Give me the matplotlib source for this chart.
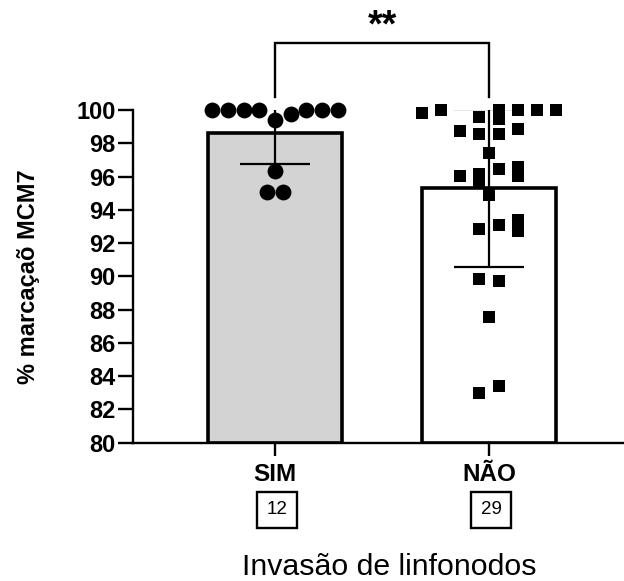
import matplotlib
matplotlib.use("Agg")
import matplotlib.pyplot as plt
import matplotlib.transforms as mtransforms
import numpy as np

plt.rcParams['font.family'] = ['Liberation Sans', 'DejaVu Sans']

# ---------------- data ----------------
categories = ["SIM", "NÃO"]
counts = ["12", "29"]
bar_means = [98.6, 95.33]
bar_sd = [1.85, 4.75]

sim_values = [100, 100, 100, 100, 99.4, 99.74, 100, 100, 100, 96.33, 95.07, 95.07]
nao_values = [99.82, 100, 99.58, 100, 99.46, 100, 100, 100,
              98.74, 98.56, 98.56, 98.86, 97.41,
              96.03, 96.15, 95.61, 96.45, 96.57, 96.03, 94.89,
              93.39, 92.85, 93.08, 92.72,
              89.84, 89.72, 87.55, 82.98, 83.4]

y_ticks = [80, 82, 84, 86, 88, 90, 92, 94, 96, 98, 100]
ylabel = "% marcaçaõ MCM7"
xlabel = "Invasão de linfonodos"
signif = "**"

# ---------------- layout (horizontal slots of the swarm) ----------------
sim_slots = [-4, -3, -2, -1, 0, 1, 2, 3, 4, 0, -0.5, 0.5]
sim_step = 0.0735
nao_slots = [-3.5, -2.5, -0.5, 0.5, 0.5, 1.5, 2.5, 3.5,
             -1.5, -0.5, 0.5, 1.5, 0,
             -1.5, -0.5, -0.5, 0.5, 1.5, 1.5, 0,
             1.5, -0.5, 0.5, 1.5,
             -0.5, 0.5, 0, -0.5, 0.5]
nao_step = 0.0888

W, H = 624, 581
fig = plt.figure(figsize=(W / 100, H / 100), dpi=100)
ax_left, ax_right = 133, 624
ax_top, ax_bot = 110, 442.7
ax = fig.add_axes([ax_left / W, 1 - ax_bot / H, (ax_right - ax_left) / W, (ax_bot - ax_top) / H])

x = np.arange(len(categories))
ax.bar(x, np.array(bar_means) - 80, bottom=80, width=0.63,
       color=["#d3d3d3", "white"], edgecolor="black", linewidth=2.6, zorder=2)

# error bars (mean +/- SD), clipped at the axis top
ax.errorbar(x, bar_means, yerr=bar_sd, fmt="none", ecolor="black",
            elinewidth=1.6, capsize=25, capthick=1.6, zorder=3)

ax.scatter(x[0] + np.array(sim_slots) * sim_step, sim_values, s=130, marker="o",
           color="black", linewidths=0, zorder=4, clip_on=False)
ax.scatter(x[1] + np.array(nao_slots) * nao_step, nao_values, s=70, marker="s",
           color="black", linewidths=0, zorder=4, clip_on=False)

ax.set_xlim((ax_left - 275) / 214, (ax_right - 275) / 214)
ax.set_ylim(80, 100)
ax.set_yticks(y_ticks)
ax.set_yticklabels([str(t) for t in y_ticks], fontsize=17, fontweight="bold")
ax.set_xticks(x)
ax.set_xticklabels(categories, fontsize=17.5, fontweight="bold")

for s in ["top", "right"]:
    ax.spines[s].set_visible(False)
for s in ["left", "bottom"]:
    ax.spines[s].set_linewidth(1.7)
ax.tick_params(axis="y", length=11, width=1.7, pad=1.5)
ax.tick_params(axis="x", length=9.5, width=1.7, pad=5)

ax.set_ylabel(ylabel, fontsize=17, fontweight="bold", labelpad=26)

# significance bracket
ax.plot([x[0], x[0], x[1], x[1]], [100.8, 104.0, 104.0, 100.8], color="black",
        lw=1.7, clip_on=False, solid_joinstyle="miter")
ax.text((x[0] + x[1]) / 2, 105.0, signif, ha="center", va="center",
        fontsize=27, fontweight="bold", clip_on=False)

# n boxes
trans = mtransforms.blended_transform_factory(ax.transData, fig.transFigure)
for xi, c in zip(x, counts):
    ax.text(xi + 0.01, 1 - 510 / H, c, transform=trans, ha="center", va="center",
            fontsize=13.5,
            bbox=dict(boxstyle="square,pad=0.5", facecolor="white",
                      edgecolor="black", linewidth=1.7))

fig.text(389 / W, 1 - 567 / H, xlabel, ha="center", va="center", fontsize=21.8)

fig.savefig("out.png", dpi=100)
